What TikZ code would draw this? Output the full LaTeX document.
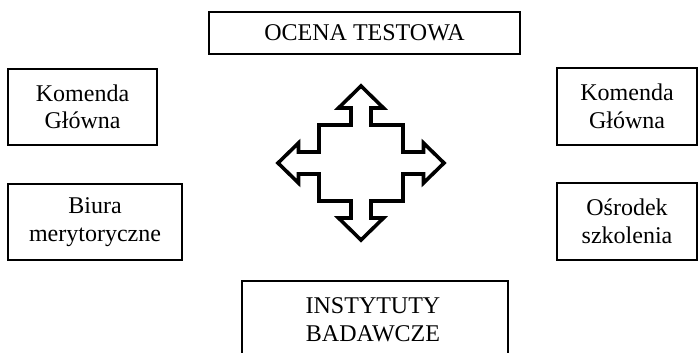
\documentclass[tikz,border=0pt]{standalone}
\usepackage{fontspec}
\setmainfont{Liberation Serif}
\begin{document}
\begin{tikzpicture}[x=1pt,y=-1pt,
  box/.style={draw,line width=1.7pt,inner sep=0pt,align=center,font=\fontsize{24}{27.5}\selectfont},
  label/.style={inner sep=0pt,align=center,font=\fontsize{24}{28}\selectfont},
  cross/.style={draw,line width=3.6pt,miter limit=10}]
\useasboundingbox (0,0) rectangle (699,353);
% top
\node[box,minimum width=311pt,minimum height=42pt] (ocena) at (364.5,33) {OCENA TESTOWA};
% left
\node[box,minimum width=149pt,minimum height=76pt] (kgl) at (82.5,107) {Komenda\\Główna};
\node[box,minimum width=174pt,minimum height=76pt] (biura) at (95,222) {Biura\\merytoryczne};
% right
\node[box,minimum width=140pt,minimum height=77pt] (kgr) at (627,106.5) {Komenda\\Główna};
\node[box,minimum width=140pt,minimum height=77pt] (osr) at (627,221.5) {Ośrodek\\szkolenia};
% bottom (box runs off the lower edge)
\draw[line width=1.7pt] (242,370) -- (242,281) -- (508,281) -- (508,370);
\node[label] (inst) at (373,320) {INSTYTUTY\\BADAWCZE};
% four-way arrow
\coordinate (c) at (361,163);
\draw[cross,shift={(c)}]
  (0,-77) -- (22.5,-55) -- (10,-55) -- (10,-38) -- (42,-38) -- (42,-11)
  -- (62.5,-11) -- (62.5,-20) -- (83,0) -- (62.5,20) -- (62.5,11)
  -- (42,11) -- (42,38) -- (10,38) -- (10,55) -- (22.5,55) -- (0,77)
  -- (-22.5,55) -- (-10,55) -- (-10,38) -- (-42,38) -- (-42,11)
  -- (-62.5,11) -- (-62.5,20) -- (-83,0) -- (-62.5,-20) -- (-62.5,-11)
  -- (-42,-11) -- (-42,-38) -- (-10,-38) -- (-10,-55) -- (-22.5,-55) -- cycle;
\end{tikzpicture}
\end{document}
